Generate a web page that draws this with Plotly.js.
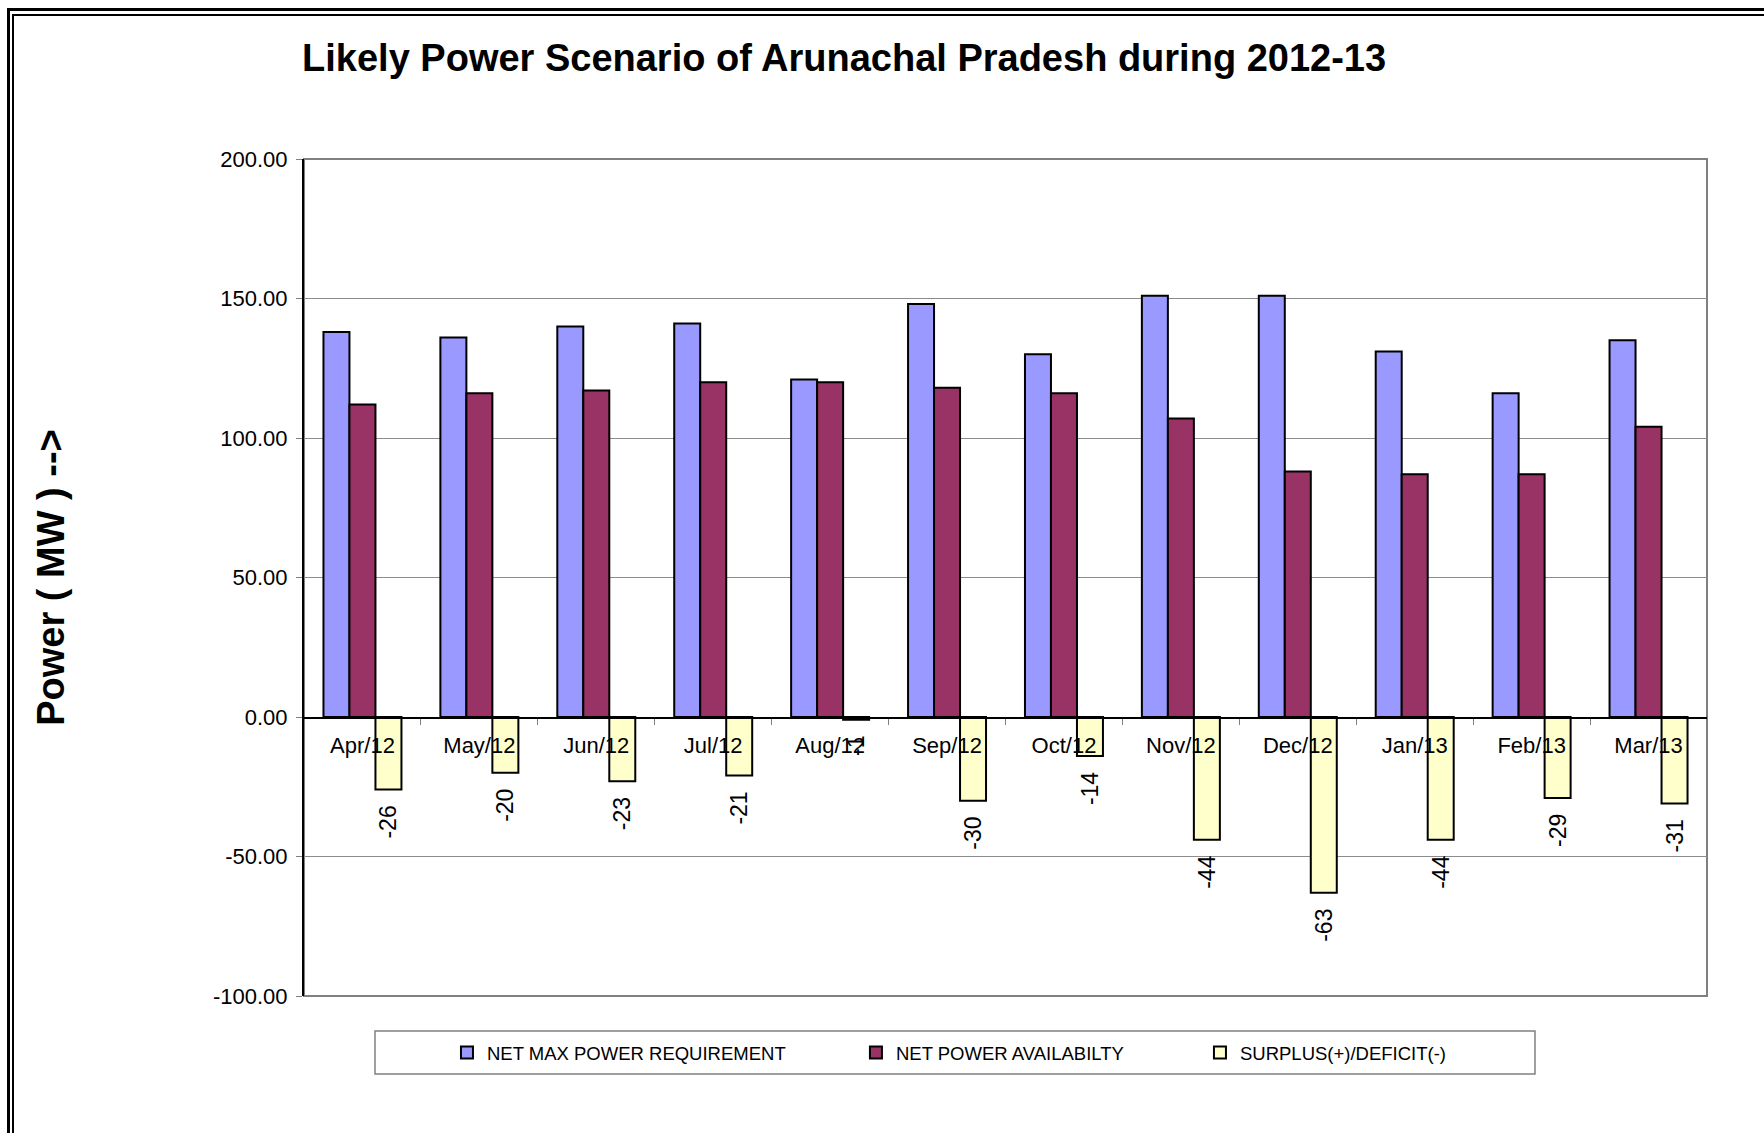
<!DOCTYPE html>
<html>
<head>
<meta charset="utf-8">
<script src="https://cdn.plot.ly/plotly-3.0.1.min.js"></script>
<style>
  html, body { margin: 0; padding: 0; background: #fff; overflow: hidden; }
  #wrap { position: relative; width: 1764px; height: 1133px; }
  #chart { position: absolute; left: 0; top: 0; width: 1764px; height: 1133px; }
  .frame { position: absolute; pointer-events: none; width: 3000px; height: 3000px; }
  #f1 { left: 7px; top: 8px; border-left: 3px solid #000; border-top: 3px solid #000; }
  #f2 { left: 12px; top: 14px; border-left: 2px solid #000; border-top: 2px solid #000; }
</style>
</head>
<body>
<div id="wrap">
  <div id="chart"></div>
  <div class="frame" id="f1"></div>
  <div class="frame" id="f2"></div>
</div>
<script>
// ---- data ----
const months = ['Apr/12','May/12','Jun/12','Jul/12','Aug/12','Sep/12','Oct/12','Nov/12','Dec/12','Jan/13','Feb/13','Mar/13'];
const netMaxRequirement = [138, 136, 140, 141, 121, 148, 130, 151, 151, 131, 116, 135];
const netAvailability   = [112, 116, 117, 120, 120, 118, 116, 107,  88,  87,  87, 104];
const surplusDeficit    = [-26, -20, -23, -21,  -1, -30, -14, -44, -63, -44, -29, -31];
const seriesNames = ['NET MAX POWER REQUIREMENT', 'NET POWER AVAILABILTY', 'SURPLUS(+)/DEFICIT(-)'];
const yTicks = [-100, -50, 0, 50, 100, 150, 200];
const yTickText = yTicks.map(v => v.toFixed(2));

const FONT = 'Liberation Sans, Arial, Helvetica, sans-serif';

const traces = [
  {
    type: 'bar', x: months, y: netMaxRequirement, name: seriesNames[0],
    marker: { color: '#9999FF', line: { color: '#000', width: 2 } },
    legend: 'legend', hoverinfo: 'x+y'
  },
  {
    type: 'bar', x: months, y: netAvailability, name: seriesNames[1],
    marker: { color: '#993366', line: { color: '#000', width: 2 } },
    legend: 'legend2', hoverinfo: 'x+y'
  },
  {
    type: 'bar', x: months, y: surplusDeficit, name: seriesNames[2],
    marker: { color: '#FFFFCC', line: { color: '#000', width: 2 } },
    legend: 'legend3',
    texttemplate: '%{y:.0f}\u00a0\u00a0',
    textposition: 'outside', textangle: -90, constraintext: 'none', cliponaxis: false,
    textfont: { family: FONT, size: 23, color: '#000' },
    hoverinfo: 'x+y'
  }
];

const legendBase = {
  orientation: 'h', y: -0.068, yanchor: 'middle', xanchor: 'left',
  bgcolor: 'rgba(0,0,0,0)', borderwidth: 0,
  font: { family: FONT, size: 18.5, color: '#000' }
};

const layout = {
  width: 1764, height: 1133,
  margin: { l: 304, r: 57, t: 159, b: 137, pad: 0 },
  paper_bgcolor: '#fff', plot_bgcolor: '#fff',
  barmode: 'group', bargap: 0.333, bargroupgap: 0,
  title: {
    text: 'Likely Power Scenario of Arunachal Pradesh during 2012-13',
    font: { family: FONT, size: 38, color: '#000', weight: 700 },
    xref: 'container', x: 0.4785, xanchor: 'center',
    yref: 'container', y: 0.949, yanchor: 'middle'
  },
  xaxis: {
    type: 'category', anchor: 'free', position: 1/3,
    showline: true, linecolor: '#000', linewidth: 1.5,
    ticks: 'outside', tickson: 'boundaries', ticklen: 6, tickcolor: '#808080', tickwidth: 1,
    ticklabelstandoff: 8,
    tickfont: { family: FONT, size: 22, color: '#000' },
    showgrid: false, zeroline: false, automargin: false
  },
  yaxis: {
    range: [-100, 200], tickvals: yTicks, ticktext: yTickText,
    showgrid: true, gridcolor: '#8c8c8c', gridwidth: 1,
    zeroline: false, showline: true, linecolor: '#000', linewidth: 2,
    ticks: 'outside', ticklen: 6, tickcolor: '#808080', tickwidth: 1,
    ticklabelstandoff: 4,
    tickfont: { family: FONT, size: 22, color: '#000' },
    automargin: false,
    title: { text: 'Power ( MW ) -->', font: { family: FONT, size: 38, color: '#000', weight: 700 }, standoff: 137 }
  },
  legend:  Object.assign({}, legendBase, { x: 0.1019 }),
  legend2: Object.assign({}, legendBase, { x: 0.3934 }),
  legend3: Object.assign({}, legendBase, { x: 0.6386 }),
  shapes: [
    { type: 'rect', xref: 'paper', yref: 'paper', x0: 0, x1: 1, y0: 0, y1: 1,
      line: { color: '#808080', width: 2 }, layer: 'below' },
    { type: 'rect', xref: 'paper', yref: 'paper', x0: 0.0506, x1: 0.8774, y0: -0.0932, y1: -0.0418,
      line: { color: '#808080', width: 1.5 }, fillcolor: 'rgba(0,0,0,0)', layer: 'below' }
  ],
  showlegend: true
};

Plotly.newPlot('chart', traces, layout, { displayModeBar: false, staticPlot: true });
</script>
</body>
</html>
